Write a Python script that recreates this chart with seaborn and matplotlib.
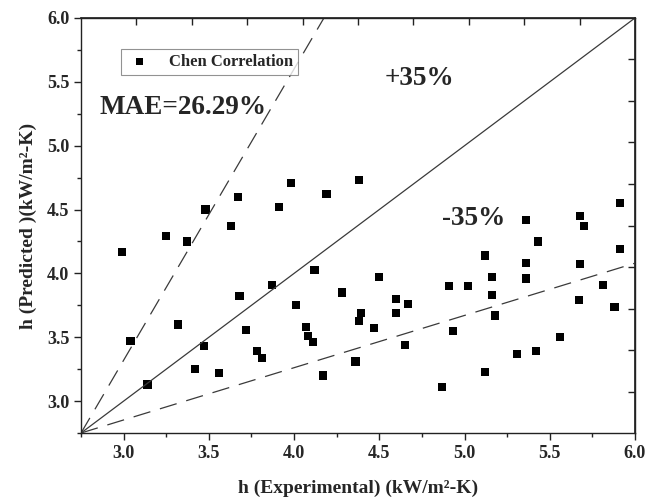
import numpy as np
import pandas as pd
import matplotlib
matplotlib.use("Agg")
import matplotlib.pyplot as plt
from matplotlib.ticker import MultipleLocator
import seaborn as sns

# measured vs predicted heat transfer coefficient (kW/m2-K)
h_exp = [2.99, 3.04, 3.14, 3.25, 3.32, 3.37, 3.42, 3.47, 3.48, 3.56,
         3.63, 3.67, 3.68, 3.72, 3.78, 3.81, 3.87, 3.91, 3.98, 4.01,
         4.07, 4.08, 4.11, 4.12, 4.17, 4.19, 4.28, 4.36, 4.38, 4.38,
         4.39, 4.47, 4.50, 4.60, 4.60, 4.65, 4.67, 4.87, 4.91, 4.93,
         5.02, 5.12, 5.12, 5.16, 5.16, 5.18, 5.31, 5.36, 5.36, 5.36,
         5.42, 5.43, 5.56, 5.67, 5.68, 5.68, 5.70, 5.81, 5.88, 5.91,
         5.91]
h_pred = [4.17, 3.47, 3.13, 4.29, 3.60, 4.25, 3.25, 3.43, 4.50, 3.22,
          4.37, 4.60, 3.82, 3.56, 3.39, 3.34, 3.91, 4.52, 4.71, 3.75,
          3.58, 3.51, 3.46, 4.03, 3.20, 4.62, 3.85, 3.31, 4.73, 3.63,
          3.69, 3.57, 3.97, 3.80, 3.69, 3.44, 3.76, 3.11, 3.90, 3.55,
          3.90, 3.23, 4.14, 3.97, 3.83, 3.67, 3.37, 4.42, 4.08, 3.96,
          3.39, 4.25, 3.50, 3.79, 4.45, 4.07, 4.37, 3.91, 3.74, 4.55,
          4.19]

# reference lines (as drawn in the original figure)
ref_x = [2.75, 6.0]
ref_y = [2.75, 6.0]
upper_x = [2.75, 4.175]
upper_y = [2.75, 6.0]
lower_x = [2.75, 6.0]
lower_y = [2.75, 4.08]

lims = (2.75, 6.0)
ticks = [3.0, 3.5, 4.0, 4.5, 5.0, 5.5, 6.0]

sns.set_theme(style="ticks")
plt.rcParams['font.family'] = ['Liberation Serif', 'DejaVu Serif']
plt.rcParams['font.weight'] = 'bold'
plt.rcParams['axes.labelweight'] = 'bold'

df = pd.DataFrame({"exp": h_exp, "pred": h_pred})

fig = plt.figure(figsize=(6.62, 5.01), dpi=100)
ax = fig.add_axes([0.1224, 0.1357, 0.8368, 0.8284])

line_col = "#3a3a3a"
ax.plot(ref_x, ref_y, color=line_col, lw=0.9)
ax.plot(upper_x, upper_y, color=line_col, lw=0.9, dashes=(14, 8))
ax.plot(lower_x, lower_y, color=line_col, lw=0.9, dashes=(14, 8))

sns.scatterplot(data=df, x="exp", y="pred", marker="s", color="black",
                s=34, edgecolor="none", label="Chen Correlation", ax=ax)

ax.set_xlim(lims)
ax.set_ylim(lims)
ax.set_xticks(ticks)
ax.set_yticks(ticks)
ax.xaxis.set_minor_locator(MultipleLocator(0.25))
ax.yaxis.set_minor_locator(MultipleLocator(0.25))
ax.tick_params(which='major', direction='out', length=5, width=1, labelsize=13, color='#222222')
ax.tick_params(which='minor', direction='out', length=3, width=1, color='#222222')
for lab in ax.get_xticklabels() + ax.get_yticklabels():
    lab.set_fontweight('bold')

for sp in ax.spines.values():
    sp.set_visible(True)
    sp.set_linewidth(1.0)
    sp.set_color('#222222')

# top / right axes carry plain inward ticks in ten equal steps
mirror = list(np.linspace(lims[0], lims[1], 11)[1:-1])
top = ax.secondary_xaxis('top')
top.set_xticks(mirror)
top.tick_params(direction='in', length=5, width=1, labeltop=False, color='#222222')
right = ax.secondary_yaxis('right')
right.set_yticks(mirror)
right.tick_params(direction='in', length=5, width=1, labelright=False, color='#222222')

ax.set_xlabel("h (Experimental) (kW/m²-K)", fontsize=14, fontweight='bold', labelpad=13)
ax.set_ylabel("h (Predicted )(kW/m²-K)", fontsize=14, fontweight='bold', labelpad=7)

ax.text(2.86, 5.30, "MAE=26.29%", fontsize=19.5, fontweight='bold', va='center')
ax.text(4.53, 5.53, "+35%", fontsize=19.5, fontweight='bold', va='center')
ax.text(4.87, 4.43, "-35%", fontsize=19.5, fontweight='bold', va='center')

leg = ax.legend(loc='upper left', bbox_to_anchor=(0.072, 0.925), borderaxespad=0,
                fancybox=False, frameon=True, edgecolor='#777777',
                prop={'size': 12, 'weight': 'bold'}, handletextpad=1.0,
                borderpad=0.3, handlelength=1.6, markerscale=0.9)
leg.get_frame().set_linewidth(0.8)

fig.savefig("out.png", dpi=100)
